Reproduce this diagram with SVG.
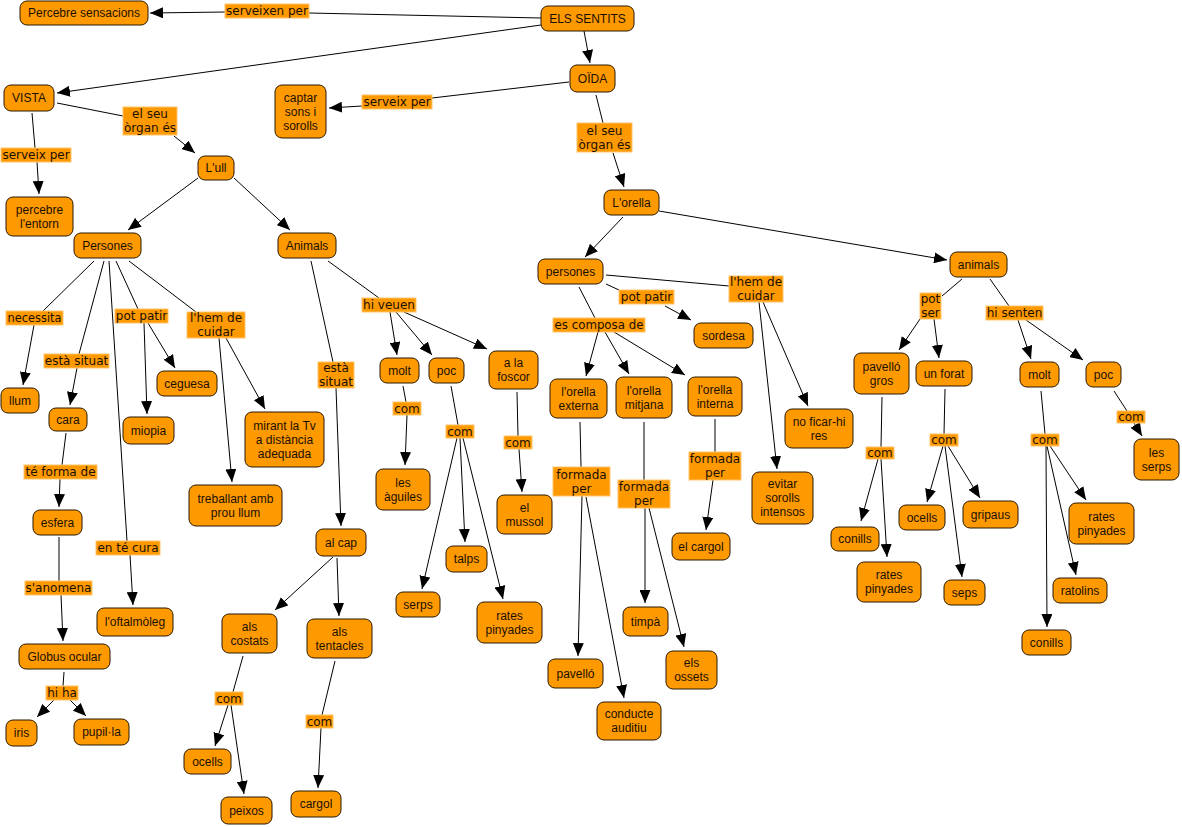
<svg xmlns="http://www.w3.org/2000/svg" width="1182" height="827" viewBox="0 0 1182 827">
<defs>
<marker id="arr" markerUnits="userSpaceOnUse" markerWidth="13" markerHeight="11" refX="13" refY="5.5" orient="auto">
<path d="M0,0 L13,5.5 L0,11 z" fill="#000"/>
</marker>
<style>
.n rect{fill:#FF9900;stroke:#2a1800;stroke-width:1}
.n text{font-family:"Liberation Sans",Arial,sans-serif;font-size:12px;fill:#1a1000;text-anchor:middle}
.l rect{fill:#FF9900;stroke:#FFC46B;stroke-width:1}
.l text{font-family:"DejaVu Sans",Verdana,sans-serif;font-size:12px;fill:#1a1000;text-anchor:middle}
#connectors line{stroke:#000;stroke-width:1;fill:none}
#connectors line.a{marker-end:url(#arr)}
</style>
</defs>
<rect width="1182" height="827" fill="#fff"/>
<g id="connectors">
<line x1="541" y1="18" x2="309" y2="13"/>
<line class="a" x1="225" y1="12" x2="150" y2="13"/>
<line class="a" x1="541" y1="25" x2="57" y2="93"/>
<line class="a" x1="584" y1="31" x2="590" y2="63"/>
<line x1="569" y1="82" x2="432" y2="98"/>
<line class="a" x1="362" y1="106" x2="329" y2="108"/>
<line x1="596" y1="95" x2="603" y2="123"/>
<line class="a" x1="613" y1="153" x2="624" y2="187"/>
<line x1="57" y1="103" x2="123" y2="116"/>
<line class="a" x1="174" y1="136" x2="195" y2="153"/>
<line x1="32" y1="113" x2="35" y2="148"/>
<line class="a" x1="37" y1="162" x2="39" y2="194"/>
<line class="a" x1="198" y1="178" x2="128" y2="230"/>
<line class="a" x1="234" y1="178" x2="290" y2="230"/>
<line x1="94" y1="261" x2="43" y2="311"/>
<line class="a" x1="34" y1="325" x2="23" y2="385"/>
<line x1="104" y1="261" x2="79" y2="354"/>
<line class="a" x1="77" y1="368" x2="70" y2="405"/>
<line x1="109" y1="261" x2="127" y2="541"/>
<line class="a" x1="130" y1="555" x2="133" y2="605"/>
<line x1="116" y1="261" x2="138" y2="309"/>
<line class="a" x1="144" y1="323" x2="147" y2="414"/>
<line class="a" x1="148" y1="323" x2="175" y2="368"/>
<line x1="129" y1="261" x2="196" y2="312"/>
<line class="a" x1="219" y1="338" x2="232" y2="482"/>
<line class="a" x1="226" y1="338" x2="265" y2="409"/>
<line x1="66" y1="433" x2="62" y2="465"/>
<line class="a" x1="60" y1="479" x2="59" y2="507"/>
<line x1="59" y1="537" x2="59" y2="581"/>
<line class="a" x1="61" y1="595" x2="63" y2="641"/>
<line x1="64" y1="672" x2="63" y2="686"/>
<line class="a" x1="54" y1="700" x2="37" y2="717"/>
<line class="a" x1="70" y1="700" x2="86" y2="716"/>
<line x1="311" y1="261" x2="333" y2="362"/>
<line class="a" x1="336" y1="388" x2="341" y2="526"/>
<line x1="328" y1="261" x2="379" y2="298"/>
<line class="a" x1="390" y1="312" x2="397" y2="355"/>
<line class="a" x1="396" y1="312" x2="432" y2="355"/>
<line class="a" x1="404" y1="312" x2="487" y2="349"/>
<line x1="403" y1="386" x2="406" y2="402"/>
<line class="a" x1="407" y1="415" x2="405" y2="465"/>
<line x1="451" y1="386" x2="458" y2="425"/>
<line class="a" x1="457" y1="438" x2="422" y2="589"/>
<line class="a" x1="460" y1="438" x2="465" y2="542"/>
<line class="a" x1="463" y1="438" x2="503" y2="599"/>
<line x1="517" y1="392" x2="518" y2="436"/>
<line class="a" x1="519" y1="449" x2="522" y2="492"/>
<line class="a" x1="333" y1="557" x2="275" y2="610"/>
<line class="a" x1="337" y1="558" x2="339" y2="616"/>
<line x1="243" y1="656" x2="233" y2="692"/>
<line class="a" x1="228" y1="705" x2="215" y2="746"/>
<line class="a" x1="231" y1="705" x2="244" y2="794"/>
<line x1="335" y1="661" x2="322" y2="715"/>
<line class="a" x1="321" y1="728" x2="318" y2="788"/>
<line class="a" x1="623" y1="217" x2="585" y2="257"/>
<line class="a" x1="659" y1="211" x2="947" y2="260"/>
<line x1="606" y1="284" x2="619" y2="290"/>
<line class="a" x1="665" y1="306" x2="691" y2="320"/>
<line x1="606" y1="275" x2="729" y2="286"/>
<line class="a" x1="759" y1="302" x2="777" y2="469"/>
<line class="a" x1="763" y1="302" x2="808" y2="406"/>
<line x1="579" y1="287" x2="595" y2="318"/>
<line class="a" x1="598" y1="332" x2="586" y2="376"/>
<line class="a" x1="605" y1="332" x2="629" y2="374"/>
<line class="a" x1="614" y1="332" x2="685" y2="375"/>
<line x1="580" y1="422" x2="581" y2="467"/>
<line class="a" x1="582" y1="496" x2="578" y2="656"/>
<line class="a" x1="586" y1="497" x2="624" y2="698"/>
<line x1="644" y1="422" x2="644" y2="480"/>
<line class="a" x1="645" y1="508" x2="645" y2="603"/>
<line class="a" x1="649" y1="508" x2="684" y2="647"/>
<line x1="715" y1="419" x2="715" y2="452"/>
<line class="a" x1="713" y1="480" x2="706" y2="530"/>
<line x1="962" y1="279" x2="942" y2="296"/>
<line class="a" x1="920" y1="319" x2="899" y2="350"/>
<line class="a" x1="934" y1="319" x2="939" y2="358"/>
<line x1="990" y1="279" x2="1009" y2="306"/>
<line class="a" x1="1018" y1="320" x2="1031" y2="359"/>
<line class="a" x1="1026" y1="320" x2="1083" y2="360"/>
<line x1="882" y1="397" x2="881" y2="447"/>
<line class="a" x1="878" y1="459" x2="861" y2="521"/>
<line class="a" x1="881" y1="459" x2="887" y2="557"/>
<line x1="945" y1="389" x2="944" y2="434"/>
<line class="a" x1="943" y1="446" x2="927" y2="502"/>
<line class="a" x1="945" y1="446" x2="962" y2="577"/>
<line class="a" x1="948" y1="446" x2="980" y2="498"/>
<line x1="1041" y1="391" x2="1045" y2="434"/>
<line class="a" x1="1046" y1="446" x2="1047" y2="627"/>
<line class="a" x1="1047" y1="446" x2="1076" y2="575"/>
<line class="a" x1="1050" y1="446" x2="1086" y2="500"/>
<line x1="1114" y1="391" x2="1127" y2="411"/>
<line class="a" x1="1134" y1="423" x2="1142" y2="436"/>
</g>
<g id="labels">
<g class="l" id="l1"><rect x="225" y="4" width="84" height="14"/><text x="267" y="15">serveixen per</text></g>
<g class="l" id="l2"><rect x="1" y="148" width="70" height="14"/><text x="36" y="159">serveix per</text></g>
<g class="l" id="l3"><rect x="123" y="107" width="54" height="28"/><text x="150" y="118">el seu</text><text x="150" y="132">òrgan és</text></g>
<g class="l" id="l4"><rect x="362" y="95" width="70" height="14"/><text x="397" y="106">serveix per</text></g>
<g class="l" id="l5"><rect x="577" y="123" width="55" height="29"/><text x="604.5" y="134.5">el seu</text><text x="604.5" y="148.5">òrgan és</text></g>
<g class="l" id="l6"><rect x="6" y="311" width="57" height="14"/><text x="34.5" y="322" textLength="54" lengthAdjust="spacingAndGlyphs">necessita</text></g>
<g class="l" id="l7"><rect x="44" y="354" width="65" height="14"/><text x="76.5" y="365">està situat</text></g>
<g class="l" id="l8"><rect x="115" y="309" width="53" height="14"/><text x="141.5" y="320">pot patir</text></g>
<g class="l" id="l9"><rect x="187" y="312" width="58" height="26"/><text x="216" y="322">l'hem de</text><text x="216" y="336">cuidar</text></g>
<g class="l" id="l10"><rect x="24" y="465" width="73" height="14"/><text x="60.5" y="476">té forma de</text></g>
<g class="l" id="l11"><rect x="25" y="581" width="67" height="14"/><text x="58.5" y="592">s'anomena</text></g>
<g class="l" id="l12"><rect x="96" y="541" width="64" height="14"/><text x="128" y="552">en té cura</text></g>
<g class="l" id="l13"><rect x="46" y="686" width="32" height="14"/><text x="62" y="697">hi ha</text></g>
<g class="l" id="l14"><rect x="318" y="362" width="36" height="26"/><text x="336" y="372">està</text><text x="336" y="386">situat</text></g>
<g class="l" id="l15"><rect x="362" y="298" width="54" height="14"/><text x="389" y="309">hi veuen</text></g>
<g class="l" id="l16"><rect x="393" y="402" width="28" height="13"/><text x="407" y="412.5">com</text></g>
<g class="l" id="l17"><rect x="446" y="425" width="28" height="13"/><text x="460" y="435.5">com</text></g>
<g class="l" id="l18"><rect x="504" y="436" width="28" height="13"/><text x="518" y="446.5">com</text></g>
<g class="l" id="l19"><rect x="215" y="692" width="28" height="13"/><text x="229" y="702.5">com</text></g>
<g class="l" id="l20"><rect x="306" y="715" width="27" height="13"/><text x="319.5" y="725.5">com</text></g>
<g class="l" id="l21"><rect x="619" y="290" width="55" height="14"/><text x="646.5" y="301">pot patir</text></g>
<g class="l" id="l22"><rect x="729" y="276" width="54" height="26"/><text x="756" y="286">l'hem de</text><text x="756" y="300">cuidar</text></g>
<g class="l" id="l23"><rect x="553" y="318" width="92" height="14"/><text x="599" y="329" textLength="89" lengthAdjust="spacingAndGlyphs">es composa de</text></g>
<g class="l" id="l24"><rect x="553" y="467" width="57" height="29"/><text x="581.5" y="478.5">formada</text><text x="581.5" y="492.5">per</text></g>
<g class="l" id="l25"><rect x="618" y="480" width="52" height="28"/><text x="644" y="491">formada</text><text x="644" y="505">per</text></g>
<g class="l" id="l26"><rect x="689" y="452" width="52" height="28"/><text x="715" y="463">formada</text><text x="715" y="477">per</text></g>
<g class="l" id="l27"><rect x="920" y="293" width="21" height="26"/><text x="930.5" y="303">pot</text><text x="930.5" y="317">ser</text></g>
<g class="l" id="l28"><rect x="986" y="306" width="57" height="14"/><text x="1014.5" y="317">hi senten</text></g>
<g class="l" id="l29"><rect x="866" y="447" width="28" height="12"/><text x="880" y="457">com</text></g>
<g class="l" id="l30"><rect x="930" y="434" width="28" height="12"/><text x="944" y="444">com</text></g>
<g class="l" id="l31"><rect x="1031" y="434" width="28" height="12"/><text x="1045" y="444">com</text></g>
<g class="l" id="l32"><rect x="1117" y="411" width="28" height="12"/><text x="1131" y="421">com</text></g>
</g>
<g id="nodes">
<g class="n" id="n1"><rect x="20" y="1" width="128" height="24" rx="7"/><text x="84" y="17">Percebre sensacions</text></g>
<g class="n" id="n2"><rect x="541" y="6" width="93" height="25" rx="7"/><text x="587.5" y="22.5">ELS SENTITS</text></g>
<g class="n" id="n3"><rect x="4" y="85" width="50" height="26" rx="7"/><text x="29" y="102">VISTA</text></g>
<g class="n" id="n4"><rect x="275" y="85" width="51" height="53" rx="7"/><text x="300.5" y="101.5">captar</text><text x="300.5" y="115.5">sons i</text><text x="300.5" y="129.5">sorolls</text></g>
<g class="n" id="n5"><rect x="570" y="65" width="45" height="27" rx="7"/><text x="592.5" y="82.5">OÏDA</text></g>
<g class="n" id="n6"><rect x="6" y="197" width="67" height="39" rx="7"/><text x="39.5" y="213.5">percebre</text><text x="39.5" y="227.5">l'entorn</text></g>
<g class="n" id="n7"><rect x="198" y="156" width="36" height="24" rx="7"/><text x="216" y="172">L'ull</text></g>
<g class="n" id="n8"><rect x="74" y="233" width="67" height="25" rx="7"/><text x="107.5" y="249.5">Persones</text></g>
<g class="n" id="n9"><rect x="278" y="233" width="58" height="25" rx="7"/><text x="307" y="249.5">Animals</text></g>
<g class="n" id="n10"><rect x="604" y="190" width="55" height="25" rx="7"/><text x="631.5" y="206.5">L'orella</text></g>
<g class="n" id="n11"><rect x="538" y="259" width="65" height="25" rx="7"/><text x="570.5" y="275.5">persones</text></g>
<g class="n" id="n12"><rect x="950" y="252" width="57" height="25" rx="7"/><text x="978.5" y="268.5">animals</text></g>
<g class="n" id="n13"><rect x="1" y="388" width="38" height="25" rx="7"/><text x="20" y="404.5">llum</text></g>
<g class="n" id="n14"><rect x="49" y="408" width="38" height="23" rx="7"/><text x="68" y="423.5">cara</text></g>
<g class="n" id="n15"><rect x="33" y="510" width="49" height="25" rx="7"/><text x="57.5" y="526.5">esfera</text></g>
<g class="n" id="n16"><rect x="19" y="644" width="91" height="25" rx="7"/><text x="64.5" y="660.5">Globus ocular</text></g>
<g class="n" id="n17"><rect x="6" y="720" width="31" height="26" rx="7"/><text x="21.5" y="737">iris</text></g>
<g class="n" id="n18"><rect x="74" y="719" width="55" height="26" rx="7"/><text x="101.5" y="736">pupil·la</text></g>
<g class="n" id="n19"><rect x="157" y="371" width="60" height="25" rx="7"/><text x="187" y="387.5">ceguesa</text></g>
<g class="n" id="n20"><rect x="123" y="417" width="51" height="27" rx="7"/><text x="148.5" y="434.5">miopia</text></g>
<g class="n" id="n21"><rect x="245" y="412" width="79" height="55" rx="7"/><text x="284.5" y="429.5">mirant la Tv</text><text x="284.5" y="443.5">a distància</text><text x="284.5" y="457.5">adequada</text></g>
<g class="n" id="n22"><rect x="189" y="485" width="93" height="41" rx="7"/><text x="235.5" y="502.5">treballant amb</text><text x="235.5" y="516.5">prou llum</text></g>
<g class="n" id="n23"><rect x="97" y="608" width="76" height="28" rx="7"/><text x="135" y="626">l'oftalmòleg</text></g>
<g class="n" id="n24"><rect x="316" y="529" width="50" height="27" rx="7"/><text x="341" y="546.5">al cap</text></g>
<g class="n" id="n25"><rect x="222" y="614" width="55" height="39" rx="7"/><text x="249.5" y="630.5">als</text><text x="249.5" y="644.5">costats</text></g>
<g class="n" id="n26"><rect x="307" y="619" width="65" height="39" rx="7"/><text x="339.5" y="635.5">als</text><text x="339.5" y="649.5">tentacles</text></g>
<g class="n" id="n27"><rect x="184" y="749" width="47" height="25" rx="7"/><text x="207.5" y="765.5">ocells</text></g>
<g class="n" id="n28"><rect x="221" y="797" width="51" height="27" rx="7"/><text x="246.5" y="814.5">peixos</text></g>
<g class="n" id="n29"><rect x="291" y="791" width="50" height="26" rx="7"/><text x="316" y="808">cargol</text></g>
<g class="n" id="n30"><rect x="380" y="358" width="39" height="25" rx="7"/><text x="399.5" y="374.5">molt</text></g>
<g class="n" id="n31"><rect x="429" y="358" width="35" height="25" rx="7"/><text x="446.5" y="374.5">poc</text></g>
<g class="n" id="n32"><rect x="489" y="351" width="49" height="38" rx="7"/><text x="513.5" y="367">a la</text><text x="513.5" y="381">foscor</text></g>
<g class="n" id="n33"><rect x="376" y="469" width="54" height="41" rx="7"/><text x="403" y="486.5">les</text><text x="403" y="500.5">àguiles</text></g>
<g class="n" id="n34"><rect x="396" y="592" width="44" height="25" rx="7"/><text x="418" y="608.5">serps</text></g>
<g class="n" id="n35"><rect x="446" y="546" width="41" height="26" rx="7"/><text x="466.5" y="563">talps</text></g>
<g class="n" id="n36"><rect x="477" y="602" width="65" height="41" rx="7"/><text x="509.5" y="619.5">rates</text><text x="509.5" y="633.5">pinyades</text></g>
<g class="n" id="n37"><rect x="497" y="495" width="55" height="39" rx="7"/><text x="524.5" y="511.5">el</text><text x="524.5" y="525.5">mussol</text></g>
<g class="n" id="n38"><rect x="694" y="323" width="59" height="25" rx="7"/><text x="723.5" y="339.5">sordesa</text></g>
<g class="n" id="n39"><rect x="550" y="379" width="57" height="39" rx="7"/><text x="578.5" y="395.5">l'orella</text><text x="578.5" y="409.5">externa</text></g>
<g class="n" id="n40"><rect x="616" y="377" width="56" height="41" rx="7"/><text x="644" y="394.5">l'orella</text><text x="644" y="408.5">mitjana</text></g>
<g class="n" id="n41"><rect x="688" y="377" width="54" height="39" rx="7"/><text x="715" y="393.5">l'orella</text><text x="715" y="407.5">interna</text></g>
<g class="n" id="n42"><rect x="548" y="659" width="55" height="29" rx="7"/><text x="575.5" y="677.5">pavelló</text></g>
<g class="n" id="n43"><rect x="597" y="702" width="64" height="38" rx="7"/><text x="629" y="718">conducte</text><text x="629" y="732">auditiu</text></g>
<g class="n" id="n44"><rect x="623" y="607" width="45" height="29" rx="7"/><text x="645.5" y="625.5">timpà</text></g>
<g class="n" id="n45"><rect x="666" y="651" width="51" height="38" rx="7"/><text x="691.5" y="667">els</text><text x="691.5" y="681">ossets</text></g>
<g class="n" id="n46"><rect x="672" y="533" width="58" height="27" rx="7"/><text x="701" y="550.5">el cargol</text></g>
<g class="n" id="n47"><rect x="752" y="472" width="61" height="52" rx="7"/><text x="782.5" y="488">evitar</text><text x="782.5" y="502">sorolls</text><text x="782.5" y="516">intensos</text></g>
<g class="n" id="n48"><rect x="785" y="409" width="68" height="39" rx="7"/><text x="819" y="425.5">no ficar-hi</text><text x="819" y="439.5">res</text></g>
<g class="n" id="n49"><rect x="854" y="353" width="55" height="41" rx="7"/><text x="881.5" y="370.5">pavelló</text><text x="881.5" y="384.5">gros</text></g>
<g class="n" id="n50"><rect x="916" y="361" width="56" height="25" rx="7"/><text x="944" y="377.5">un forat</text></g>
<g class="n" id="n51"><rect x="1020" y="362" width="39" height="25" rx="7"/><text x="1039.5" y="378.5">molt</text></g>
<g class="n" id="n52"><rect x="1086" y="362" width="35" height="25" rx="7"/><text x="1103.5" y="378.5">poc</text></g>
<g class="n" id="n53"><rect x="1134" y="439" width="45" height="41" rx="7"/><text x="1156.5" y="456.5">les</text><text x="1156.5" y="470.5">serps</text></g>
<g class="n" id="n54"><rect x="831" y="527" width="48" height="24" rx="7"/><text x="855" y="543">conills</text></g>
<g class="n" id="n55"><rect x="857" y="562" width="64" height="40" rx="7"/><text x="889" y="579">rates</text><text x="889" y="593">pinyades</text></g>
<g class="n" id="n56"><rect x="899" y="505" width="46" height="25" rx="7"/><text x="922" y="521.5">ocells</text></g>
<g class="n" id="n57"><rect x="963" y="501" width="55" height="27" rx="7"/><text x="990.5" y="518.5">gripaus</text></g>
<g class="n" id="n58"><rect x="944" y="580" width="41" height="25" rx="7"/><text x="964.5" y="596.5">seps</text></g>
<g class="n" id="n59"><rect x="1069" y="503" width="65" height="41" rx="7"/><text x="1101.5" y="520.5">rates</text><text x="1101.5" y="534.5">pinyades</text></g>
<g class="n" id="n60"><rect x="1053" y="578" width="54" height="25" rx="7"/><text x="1080" y="594.5">ratolins</text></g>
<g class="n" id="n61"><rect x="1022" y="630" width="49" height="25" rx="7"/><text x="1046.5" y="646.5">conills</text></g>
</g>
</svg>
